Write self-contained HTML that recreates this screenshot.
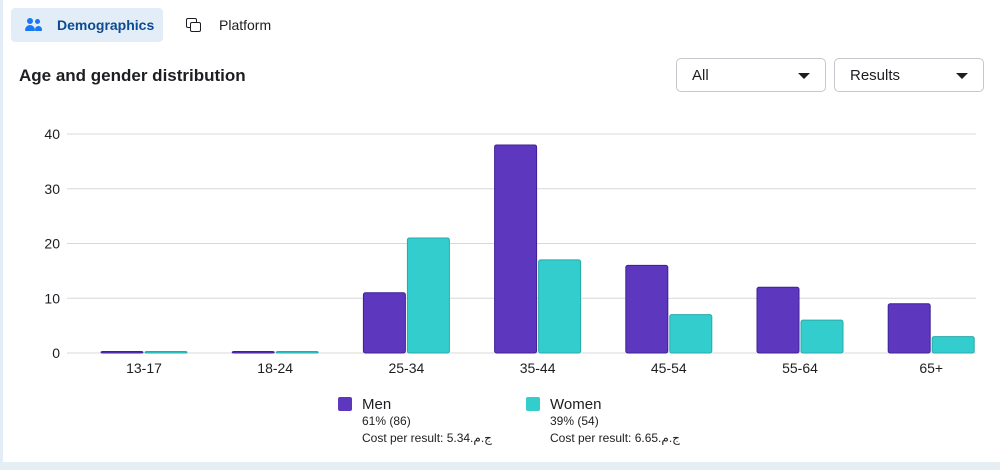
<!DOCTYPE html>
<html><head><meta charset="utf-8"><style>
body{margin:0;width:1000px;height:470px;background:#fff;font-family:"Liberation Sans","Noto Sans CJK SC",sans-serif;position:relative;overflow:hidden;color:#1c1e21}
.abs{position:absolute}
.tab{top:8px;height:34px;display:flex;align-items:center;font-size:14px}
.sel{border:1px solid #c4c7cc;border-radius:5px;background:#fff;height:34px;top:58px;font-size:15px;display:flex;align-items:center;padding-left:15px;box-sizing:border-box}
.caret{position:absolute;right:15px;top:14px;width:0;height:0;border-left:6px solid transparent;border-right:6px solid transparent;border-top:6px solid #1c1e21}
</style></head><body>
<div class="abs" style="left:0;top:0;width:3px;height:470px;background:#e3edf7"></div>
<div class="abs" style="left:0;top:462px;width:1000px;height:8px;background:#e4eef3"></div>
<div class="abs tab" style="left:11px;width:152px;background:#e3edf8;border-radius:4px;color:#0a4b91;font-weight:bold">
 <span style="position:relative;display:inline-block;width:18px;height:14px;margin:0 14px 0 14px">
  <i style="position:absolute;left:2px;top:0;width:6px;height:6px;border-radius:50%;background:#1877f2"></i>
  <i style="position:absolute;left:10px;top:1px;width:5px;height:5px;border-radius:50%;background:#1877f2"></i>
  <i style="position:absolute;left:0;top:7px;width:10px;height:6px;border-radius:5px 5px 1px 1px;background:#1877f2"></i>
  <i style="position:absolute;left:10px;top:8px;width:7px;height:5px;border-radius:4px 4px 1px 1px;background:#1877f2"></i>
 </span>Demographics</div>
<div class="abs tab" style="left:186px">
 <span style="position:relative;display:inline-block;width:16px;height:14px;margin-right:17px">
  <i style="position:absolute;left:0;top:0;width:9px;height:8px;border:1.6px solid #1c1e21;border-radius:2px"></i>
  <i style="position:absolute;left:4px;top:4px;width:9px;height:8px;border:1.6px solid #1c1e21;border-radius:2px;background:#fff"></i>
 </span>Platform</div>
<div class="abs" style="left:19px;top:66px;font-size:17px;font-weight:bold">Age and gender distribution</div>
<div class="abs sel" style="left:676px;width:150px">All<span class="caret"></span></div>
<div class="abs sel" style="left:834px;width:150px">Results<span class="caret"></span></div>
<svg class="abs" id="chart" style="left:0;top:0" width="1000" height="470"></svg>
<div class="abs" style="left:338px;top:396px;font-size:12px;line-height:17px">
 <div style="position:absolute;left:0;top:1px;width:14px;height:14px;background:#5e37bf;border-radius:2px"></div>
 <div style="margin-left:24px;font-size:15px">Men</div>
 <div style="margin-left:24px">61% (86)</div>
 <div style="margin-left:24px">Cost per result: 5.34.<bdi>ج.م</bdi></div>
</div>
<div class="abs" style="left:526px;top:396px;font-size:12px;line-height:17px">
 <div style="position:absolute;left:0;top:1px;width:14px;height:14px;background:#34cdcd;border-radius:2px"></div>
 <div style="margin-left:24px;font-size:15px">Women</div>
 <div style="margin-left:24px">39% (54)</div>
 <div style="margin-left:24px">Cost per result: 6.65.<bdi>ج.م</bdi></div>
</div>
<script>
const categories=["13-17","18-24","25-34","35-44","45-54","55-64","65+"];
const men=[0,0,11,38,16,12,9];
const women=[0,0,21,17,7,6,3];
const ticks=[0,10,20,30,40];
const svg=document.getElementById('chart');
const NS='http://www.w3.org/2000/svg';
const y=v=>353-v*(219/40);
const cx=i=>144+i*131.2;
function mk(t,a){const e=document.createElementNS(NS,t);for(const k in a)e.setAttribute(k,a[k]);svg.appendChild(e);return e;}
ticks.forEach(t=>{
 const l=mk('line',{x1:67,x2:976,y1:y(t),y2:y(t),stroke:'#d8d8d8','stroke-width':1});
 
 
 const tx=mk('text',{x:60,y:y(t)+5,'text-anchor':'end','font-size':14,fill:'#1c1e21'});
 tx.textContent=t;
 
 
});
function bar(x,v,fill,stroke,name){
 const h=Math.max(v*(219/40),1.5);
 const r=mk('rect',{x:x,y:353-h,width:42,height:h,fill:fill,stroke:stroke,'stroke-width':1,rx:2});
 
 
}
categories.forEach((c,i)=>{
 bar(cx(i)-43,men[i],'#5e37bf','#3d2196','bar-men-'+c);
 bar(cx(i)+1,women[i],'#34cdcd','#27aaaa','bar-women-'+c);
 const tx=mk('text',{x:cx(i),y:373,'text-anchor':'middle','font-size':14,fill:'#1c1e21'});
 tx.textContent=c;
 
 
});
</script>
</body></html>
